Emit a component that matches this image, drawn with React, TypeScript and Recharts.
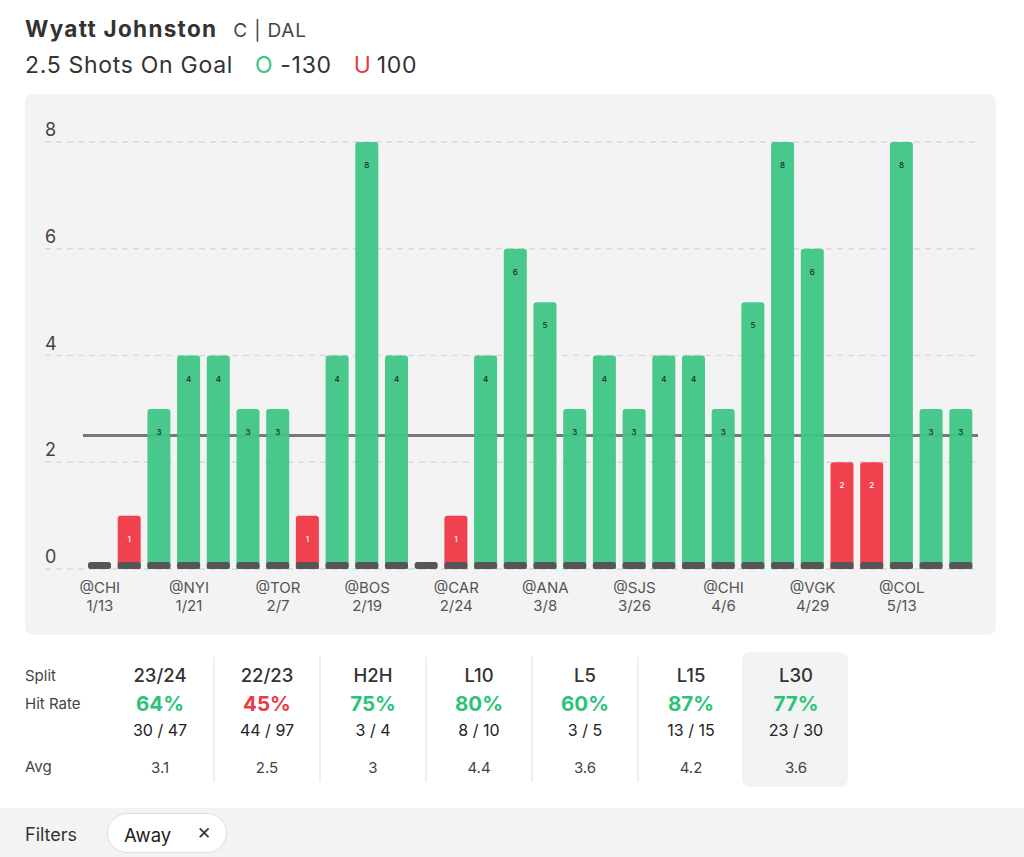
import { Bar, BarChart, CartesianGrid, ReferenceLine, XAxis, YAxis } from 'recharts'

const opponents = ['@CHI', '@CHI', '@NYI', '@NYI', '@NYI', '@TOR', '@TOR', '@TOR', '@BOS', '@BOS', '@BOS', '@CAR', '@CAR', '@CAR', '@ANA', '@ANA', '@ANA', '@SJS', '@SJS', '@SJS', '@CHI', '@CHI', '@CHI', '@VGK', '@VGK', '@VGK', '@COL', '@COL', '@COL', '@COL']
const dates = ['1/13', '1/15', '1/19', '1/21', '1/23', '2/3', '2/7', '2/9', '2/17', '2/19', '2/21', '2/22', '2/24', '2/26', '3/6', '3/8', '3/10', '3/24', '3/26', '3/28', '4/4', '4/6', '4/8', '4/27', '4/29', '5/1', '5/11', '5/13', '5/15', '5/17']
const shots = [0, 1, 3, 4, 4, 3, 3, 1, 4, 8, 4, 0, 1, 4, 6, 5, 3, 4, 3, 4, 4, 3, 5, 8, 6, 2, 2, 8, 3, 3]
const labelEvery = 3
const line = 2.5
const yTicks = [0, 2, 4, 6, 8]

const splits = ['23/24', '22/23', 'H2H', 'L10', 'L5', 'L15', 'L30']
const hitRates = [64, 45, 75, 80, 60, 87, 77]
const hits = ['30 / 47', '44 / 97', '3 / 4', '8 / 10', '3 / 5', '13 / 15', '23 / 30']
const avgs = ['3.1', '2.5', '3', '4.4', '3.6', '4.2', '3.6']

const GREEN = '#3ec585'
const RED = '#ee3845'
const FONT = 'Inter, "Open Sans", sans-serif'

const data = shots.map((v, i) => ({ key: `${i}`, opp: opponents[i], date: dates[i], shots: v }))

function BarShape(props: any) {
  const { x, y, width, height, payload } = props
  const v = payload.shots
  const over = v > line
  return (
    <g>
      {height > 0 && (
        <path
          d={`M${x},${y + height} L${x},${y + 3} Q${x},${y} ${x + 3},${y} L${x + width - 3},${y} Q${x + width},${y} ${x + width},${y + 3} L${x + width},${y + height} Z`}
          fill={over ? GREEN : RED}
          fillOpacity={0.95}
        />
      )}
      <rect x={x} y={y + height - 7} width={width} height={7} rx={2.5} fill="#555555" />
      {v > 0 && (
        <text x={x + width / 2} y={y + 26} textAnchor="middle" fontSize={8} fontWeight={500} fill={over ? '#222' : '#fff'} fontFamily={FONT}>
          {v}
        </text>
      )}
    </g>
  )
}

function XTick(props: any) {
  const { x, y, index } = props
  if (index % labelEvery !== 0) return null
  const d = data[index]
  return (
    <g>
      <text x={x} y={y + 16} textAnchor="middle" fontSize={15} fill="#555" fontFamily={FONT}>{d.opp}</text>
      <text x={x} y={y + 34} textAnchor="middle" fontSize={15} fill="#555" fontFamily={FONT}>{d.date}</text>
    </g>
  )
}

function YTick(props: any) {
  const { y, payload } = props
  return (
    <text x={20} y={y - 6} fontSize={18} fill="#444" fontFamily={FONT}>{payload.value}</text>
  )
}

function GridLine(props: any) {
  const { y1, x2 } = props
  return <line x1={20} x2={x2} y1={y1} y2={y1} stroke="#d9d9d9" strokeWidth={1.5} strokeDasharray="6 5" />
}

export default function App() {
  return (
    <div style={{ position: 'absolute', left: 0, top: 0, width: 1024, height: 857, background: '#fff', fontFamily: FONT, color: '#333', overflow: 'hidden' }}>
      <div style={{ position: 'absolute', left: 25, top: 15, whiteSpace: 'nowrap' }}>
        <span style={{ fontSize: 22.5, fontWeight: 700, color: '#333', letterSpacing: 1.3 }}>Wyatt Johnston</span>
        <span style={{ fontSize: 19, color: '#444', marginLeft: 16, letterSpacing: 0.8 }}>C | DAL</span>
      </div>
      <div style={{ position: 'absolute', left: 25, top: 51, whiteSpace: 'nowrap', fontSize: 23, color: '#333', letterSpacing: 0.7 }}>
        <span>2.5 Shots On Goal</span>
        <span style={{ color: GREEN, marginLeft: 22 }}>O</span>
        <span style={{ marginLeft: 7 }}>-130</span>
        <span style={{ color: RED, marginLeft: 22 }}>U</span>
        <span style={{ marginLeft: 5 }}>100</span>
      </div>

      <div style={{ position: 'absolute', left: 25, top: 94, width: 971, height: 541, background: '#f3f3f3', borderRadius: 8 }}>
        <BarChart width={971} height={541} data={data} margin={{ top: 48, right: 18, left: 0, bottom: 16 }} barSize={23}>
          <CartesianGrid vertical={false} horizontal={GridLine} />
          <XAxis dataKey="key" axisLine={false} tickLine={false} interval={0} tick={XTick} height={50} padding={{ left: 2, right: 2 }} />
          <YAxis domain={[0, 8]} ticks={yTicks} axisLine={false} tickLine={false} tick={YTick} width={58} />
          <ReferenceLine y={line} stroke="#777" strokeWidth={3} zIndex={250} />
          <Bar dataKey="shots" shape={BarShape} isAnimationActive={false} />
        </BarChart>
      </div>

      <div style={{ position: 'absolute', left: 742, top: 652, width: 106, height: 135, background: '#f3f3f3', borderRadius: 8 }} />
      <div style={{ position: 'absolute', left: 25, top: 666, fontSize: 15, color: '#444' }}>Split</div>
      <div style={{ position: 'absolute', left: 25, top: 694, fontSize: 15, color: '#444' }}>Hit Rate</div>
      <div style={{ position: 'absolute', left: 25, top: 757, fontSize: 15, color: '#444' }}>Avg</div>
      {splits.map((s, i) => (
        <div key={s} style={{ position: 'absolute', left: 107 + i * 106, top: 657, width: 106, height: 125, textAlign: 'center', borderLeft: i > 0 && i < 6 ? '2px solid #eeeeee' : 'none', boxSizing: 'border-box' }}>
          <div style={{ position: 'absolute', left: 0, right: 0, top: 7, fontSize: 18.5, fontWeight: 500, color: '#333' }}>{s}</div>
          <div style={{ position: 'absolute', left: 0, right: 0, top: 34, fontSize: 20.5, fontWeight: 700, color: hitRates[i] >= 50 ? '#2bc37a' : RED }}>{hitRates[i]}%</div>
          <div style={{ position: 'absolute', left: 0, right: 0, top: 63, fontSize: 16, color: '#222' }}>{hits[i]}</div>
          <div style={{ position: 'absolute', left: 0, right: 0, top: 101, fontSize: 15, color: '#444' }}>{avgs[i]}</div>
        </div>
      ))}

      <div style={{ position: 'absolute', left: 0, top: 808, width: 1024, height: 49, background: '#f3f3f3' }}>
        <div style={{ position: 'absolute', left: 25, top: 16, fontSize: 18, color: '#333' }}>Filters</div>
        <div style={{ position: 'absolute', left: 107, top: 5, width: 120, height: 40, boxSizing: 'border-box', background: '#fff', border: '1px solid #dddddd', borderRadius: 20 }}>
          <span style={{ position: 'absolute', left: 16, top: 10, fontSize: 18.5, color: '#222' }}>Away</span>
          <span style={{ position: 'absolute', left: 89, top: 9, fontSize: 17, color: '#333' }}>✕</span>
        </div>
      </div>
    </div>
  )
}
